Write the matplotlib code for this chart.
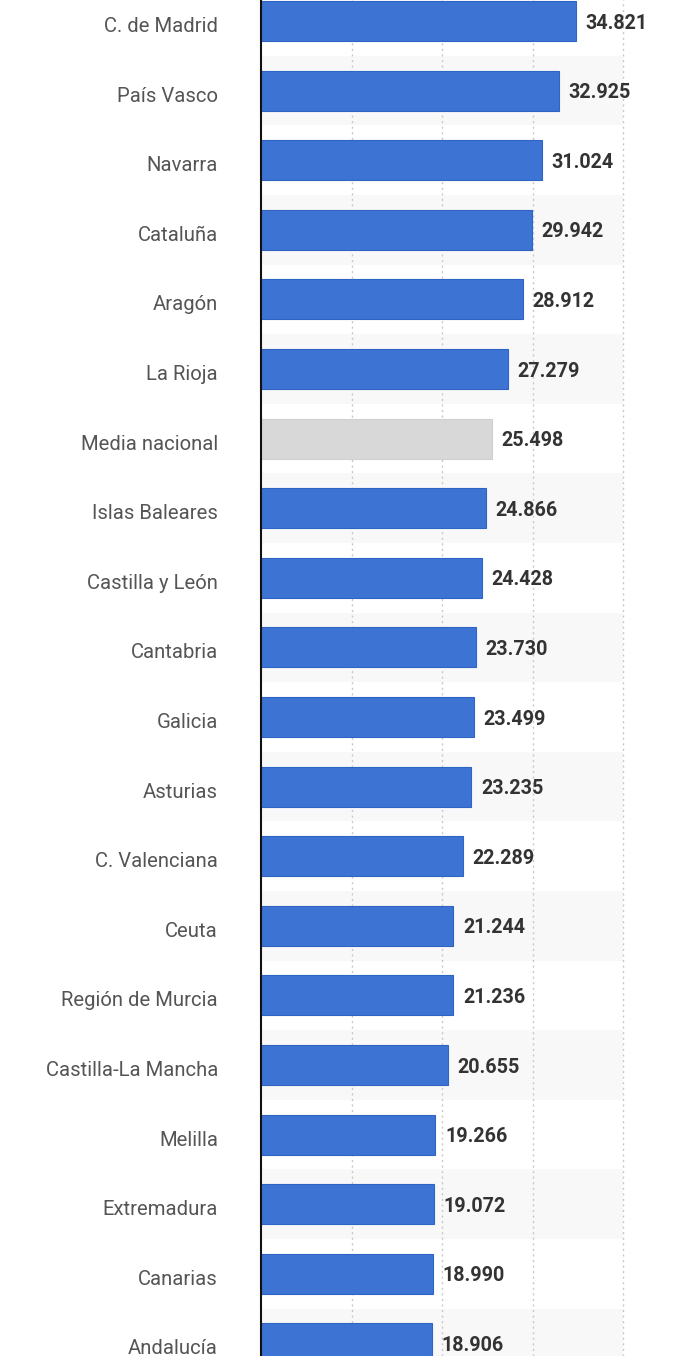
import matplotlib.pyplot as plt
import matplotlib.transforms as mtransforms

# Datos por comunidad autónoma
regiones = ['C. de Madrid', 'País Vasco', 'Navarra', 'Cataluña', 'Aragón', 'La Rioja',
            'Media nacional', 'Islas Baleares', 'Castilla y León', 'Cantabria', 'Galicia',
            'Asturias', 'C. Valenciana', 'Ceuta', 'Región de Murcia', 'Castilla-La Mancha',
            'Melilla', 'Extremadura', 'Canarias', 'Andalucía']
valores = [34821, 32925, 31024, 29942, 28912, 27279, 25498, 24866, 24428, 23730, 23499,
           23235, 22289, 21244, 21236, 20655, 19266, 19072, 18990, 18906]
etiquetas = ['34.821', '32.925', '31.024', '29.942', '28.912', '27.279', '25.498', '24.866',
             '24.428', '23.730', '23.499', '23.235', '22.289', '21.244', '21.236', '20.655',
             '19.266', '19.072', '18.990', '18.906']
marcas_x = [10000, 20000, 30000, 40000]

plt.rcParams['font.family'] = ['Roboto', 'DejaVu Sans']

fig = plt.figure(figsize=(6.9, 13.56), dpi=100)
ax = fig.add_axes([261 / 690, 0, 429 / 690, 1])

xmax = 47400
ax.set_xlim(0, xmax)
ax.set_ylim(19.18, -0.302)

# bandas alternas de fondo
for i in range(len(regiones)):
    if i % 2 == 1:
        ax.axhspan(i - 0.5, i + 0.5, xmin=0, xmax=40000 / xmax, color='#f8f8f8', zorder=0, lw=0)

for x in marcas_x:
    ax.axvline(x, color='#c8c8c8', lw=1, ls=(0, (1.5, 2.5)), zorder=1)

colores = ['#d8d8d8' if r == 'Media nacional' else '#3d74d4' for r in regiones]
bordes = ['#d0d0d0' if r == 'Media nacional' else '#2f63c4' for r in regiones]
ys = list(range(len(regiones)))
ax.barh(ys, valores, height=0.575, color=colores, edgecolor=bordes, linewidth=0.8, zorder=2)

for y, v, t in zip(ys, valores, etiquetas):
    ax.annotate(t, (v, y), xytext=(7, -1.5), textcoords='offset points', va='center', ha='left',
                fontsize=14.2, fontweight='bold', color='#333333', zorder=3)

ax.set_yticks(ys)
ax.set_yticklabels(regiones, fontsize=14.6, color='#555555')
ax.tick_params(axis='y', length=0, pad=31)
bajar = mtransforms.ScaledTranslation(0, -2.5 / 72, fig.dpi_scale_trans)
for lbl in ax.get_yticklabels():
    lbl.set_transform(lbl.get_transform() + bajar)
ax.set_xticks([])

for s in ['top', 'right', 'bottom']:
    ax.spines[s].set_visible(False)
ax.spines['left'].set_color('#111111')
ax.spines['left'].set_linewidth(1.5)
ax.spines['left'].set_zorder(4)

fig.savefig('out.png', dpi=100)
